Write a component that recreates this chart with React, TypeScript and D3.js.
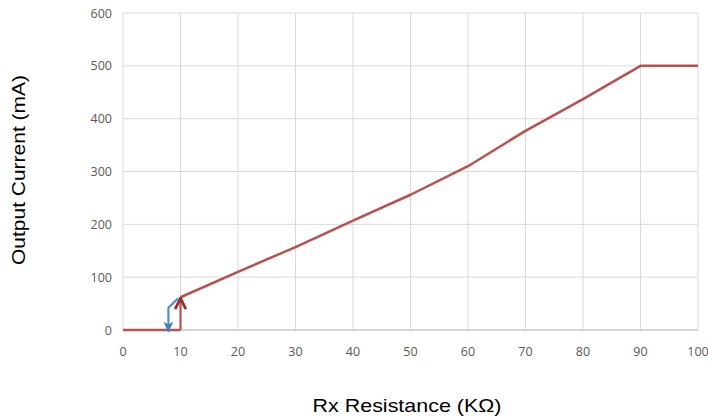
import React from "react";
import * as d3 from "d3";

const xTicks = [0, 10, 20, 30, 40, 50, 60, 70, 80, 90, 100];
const yTicks = [0, 100, 200, 300, 400, 500, 600];
const mainX = [0, 10, 10, 20, 30, 40, 50, 60, 70, 80, 90, 100];
const mainY = [0, 0, 62, 110, 157, 207, 256, 310, 377, 437, 500, 500];
const redArrowX = [10, 10];
const redArrowY = [0, 60];
const blueArrowX = [9.6, 7.9, 7.9];
const blueArrowY = [60, 42, -3];

const W = 708, H = 419;
const L = 123, R = 698, T = 13, B = 330;

export default function App() {
  const x = d3.scaleLinear().domain([0, 100]).range([L, R]);
  const y = d3.scaleLinear().domain([0, 600]).range([B, T]);
  const line = d3.line<[number, number]>().x(d => x(d[0])).y(d => y(d[1]));
  const zip = (a: number[], b: number[]) => a.map((v, i) => [v, b[i]] as [number, number]);
  const mainPts = zip(mainX, mainY).filter((_, i) => i !== 1);
  const horiz = zip(mainX.slice(0, 2), mainY.slice(0, 2));
  const red = "#b9504e";
  const blue = "#4f8fd0";
  return (
    <svg width={W} height={H} style={{ position: "absolute", left: 0, top: 0 }}>
      <defs>
        <marker id="ar" viewBox="0 0 12 12" refX="11" refY="6" markerUnits="userSpaceOnUse" markerWidth="13" markerHeight="13" orient="auto">
          <path d="M1,1 L11,6 L1,11" fill="none" stroke="#93302d" strokeWidth={2.6} strokeLinejoin="miter" />
        </marker>
        <marker id="ab" viewBox="0 0 10 10" refX="9" refY="5" markerUnits="userSpaceOnUse" markerWidth="11" markerHeight="11" orient="auto">
          <path d="M0,0.5 L10,5 L0,9.5 L2.5,5 Z" fill="#3f7fc4" />
        </marker>
      </defs>
      <rect width={W} height={H} fill="#fff" />
      {yTicks.map(t => (
        <line key={"gy" + t} x1={L} x2={R} y1={y(t)} y2={y(t)} stroke="#d9d9d9" strokeWidth={1} />
      ))}
      {xTicks.map(t => (
        <line key={"gx" + t} x1={x(t)} x2={x(t)} y1={T} y2={B} stroke="#d9d9d9" strokeWidth={1} />
      ))}
      <line x1={L} x2={R} y1={B} y2={B} stroke="#bfbfbf" strokeWidth={1} />
      {yTicks.map(t => (
        <text key={"ty" + t} x={L - 11} y={y(t) + 4.5} textAnchor="end" fontFamily="Open Sans, sans-serif" fontSize={12.5} fill="#595959">{t}</text>
      ))}
      {xTicks.map(t => (
        <text key={"tx" + t} x={x(t)} y={B + 26} textAnchor="middle" fontFamily="Open Sans, sans-serif" fontSize={12.5} fill="#595959">{t}</text>
      ))}
      <path d={line(horiz) || ""} fill="none" stroke={red} strokeWidth={2.5} />
      <path d={line(mainPts.slice(1)) || ""} fill="none" stroke={red} strokeWidth={2.5} strokeLinejoin="round" />
      <path d={line(zip(blueArrowX, blueArrowY)) || ""} fill="none" stroke={blue} strokeWidth={2.2} markerEnd="url(#ab)" />
      <path d={line(zip(redArrowX, redArrowY)) || ""} fill="none" stroke={red} strokeWidth={2.2} markerEnd="url(#ar)" />
      <text x={407} y={412} textAnchor="middle" fontFamily="Liberation Sans, Arial, sans-serif" fontSize={19} textLength={189} lengthAdjust="spacingAndGlyphs" fill="#000">Rx Resistance (KΩ)</text>
      <text transform={`translate(25,170) rotate(-90)`} textAnchor="middle" fontFamily="Liberation Sans, Arial, sans-serif" fontSize={19} textLength={190} lengthAdjust="spacingAndGlyphs" fill="#000">Output Current (mA)</text>
    </svg>
  );
}
